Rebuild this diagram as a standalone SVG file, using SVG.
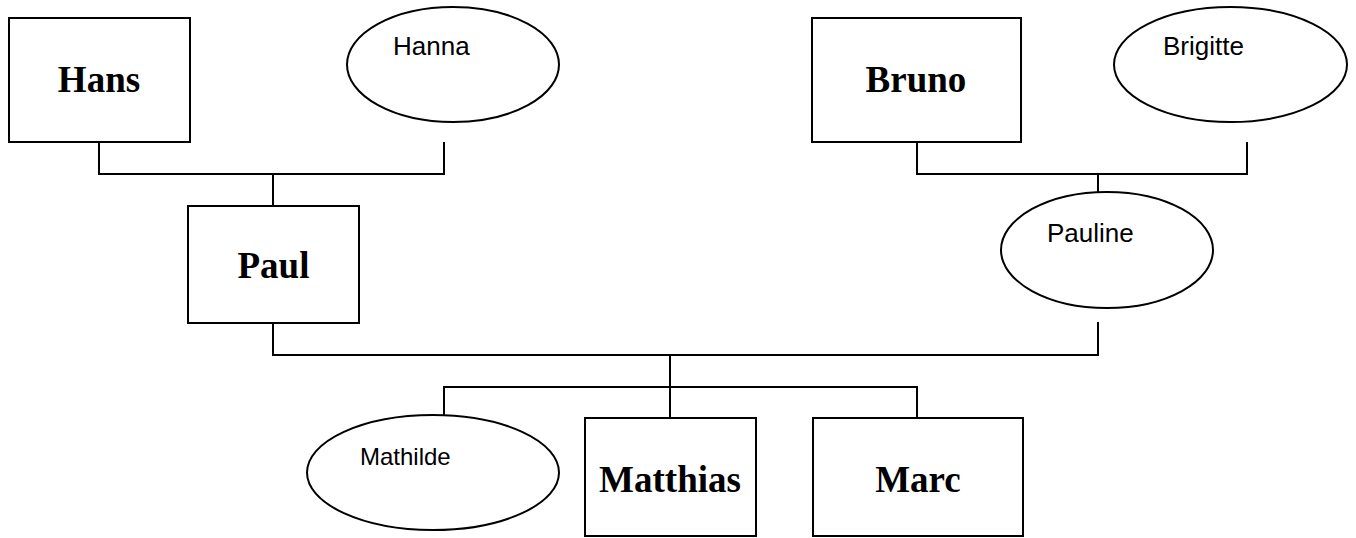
<svg xmlns="http://www.w3.org/2000/svg" width="1356" height="538" viewBox="0 0 1356 538">
<style>
.box{fill:#fff;stroke:#000;stroke-width:2}
.ell{fill:#fff;stroke:#000;stroke-width:2}
.con{fill:none;stroke:#000;stroke-width:2}
.m{font-family:"Liberation Serif","Times New Roman",serif;font-weight:bold;font-size:37px;text-anchor:middle;fill:#000}
.f{font-family:"Liberation Sans",Arial,sans-serif;font-size:26px;fill:#000}
</style>
<rect width="1356" height="538" fill="#fff"/>
<g id="connectors">
<path class="con" d="M99,142 V174 H444 V142"/>
<path class="con" d="M273,174 V206"/>
<path class="con" d="M917,142 V174 H1247 V142"/>
<path class="con" d="M1098,174 V192"/>
<path class="con" d="M273,323 V355 H1098 V322"/>
<path class="con" d="M670,355 V387"/>
<path class="con" d="M444,416 V387 H917 V418"/>
<path class="con" d="M670,387 V418"/>
</g>
<g id="hans"><rect class="box" x="9" y="18" width="181" height="124"/><text class="m" x="99" y="92">Hans</text></g>
<g id="hanna"><ellipse class="ell" cx="453" cy="64.5" rx="106" ry="57.5"/><text class="f" x="393" y="55">Hanna</text></g>
<g id="bruno"><rect class="box" x="812" y="18" width="209" height="124"/><text class="m" x="916" y="92">Bruno</text></g>
<g id="brigitte"><ellipse class="ell" cx="1230.5" cy="64.5" rx="116.5" ry="57.5"/><text class="f" x="1163" y="55">Brigitte</text></g>
<g id="paul"><rect class="box" x="188" y="206" width="171" height="117"/><text class="m" x="273.5" y="278">Paul</text></g>
<g id="pauline"><ellipse class="ell" cx="1107" cy="250" rx="106" ry="58"/><text class="f" x="1047" y="242">Pauline</text></g>
<g id="mathilde"><ellipse class="ell" cx="433" cy="472.5" rx="126" ry="57.5"/><text class="f" x="360" y="465" style="font-size:24px">Mathilde</text></g>
<g id="matthias"><rect class="box" x="585" y="418" width="171" height="118"/><text class="m" x="670" y="492">Matthias</text></g>
<g id="marc"><rect class="box" x="813" y="418" width="210" height="118"/><text class="m" x="918" y="492">Marc</text></g>
</svg>
